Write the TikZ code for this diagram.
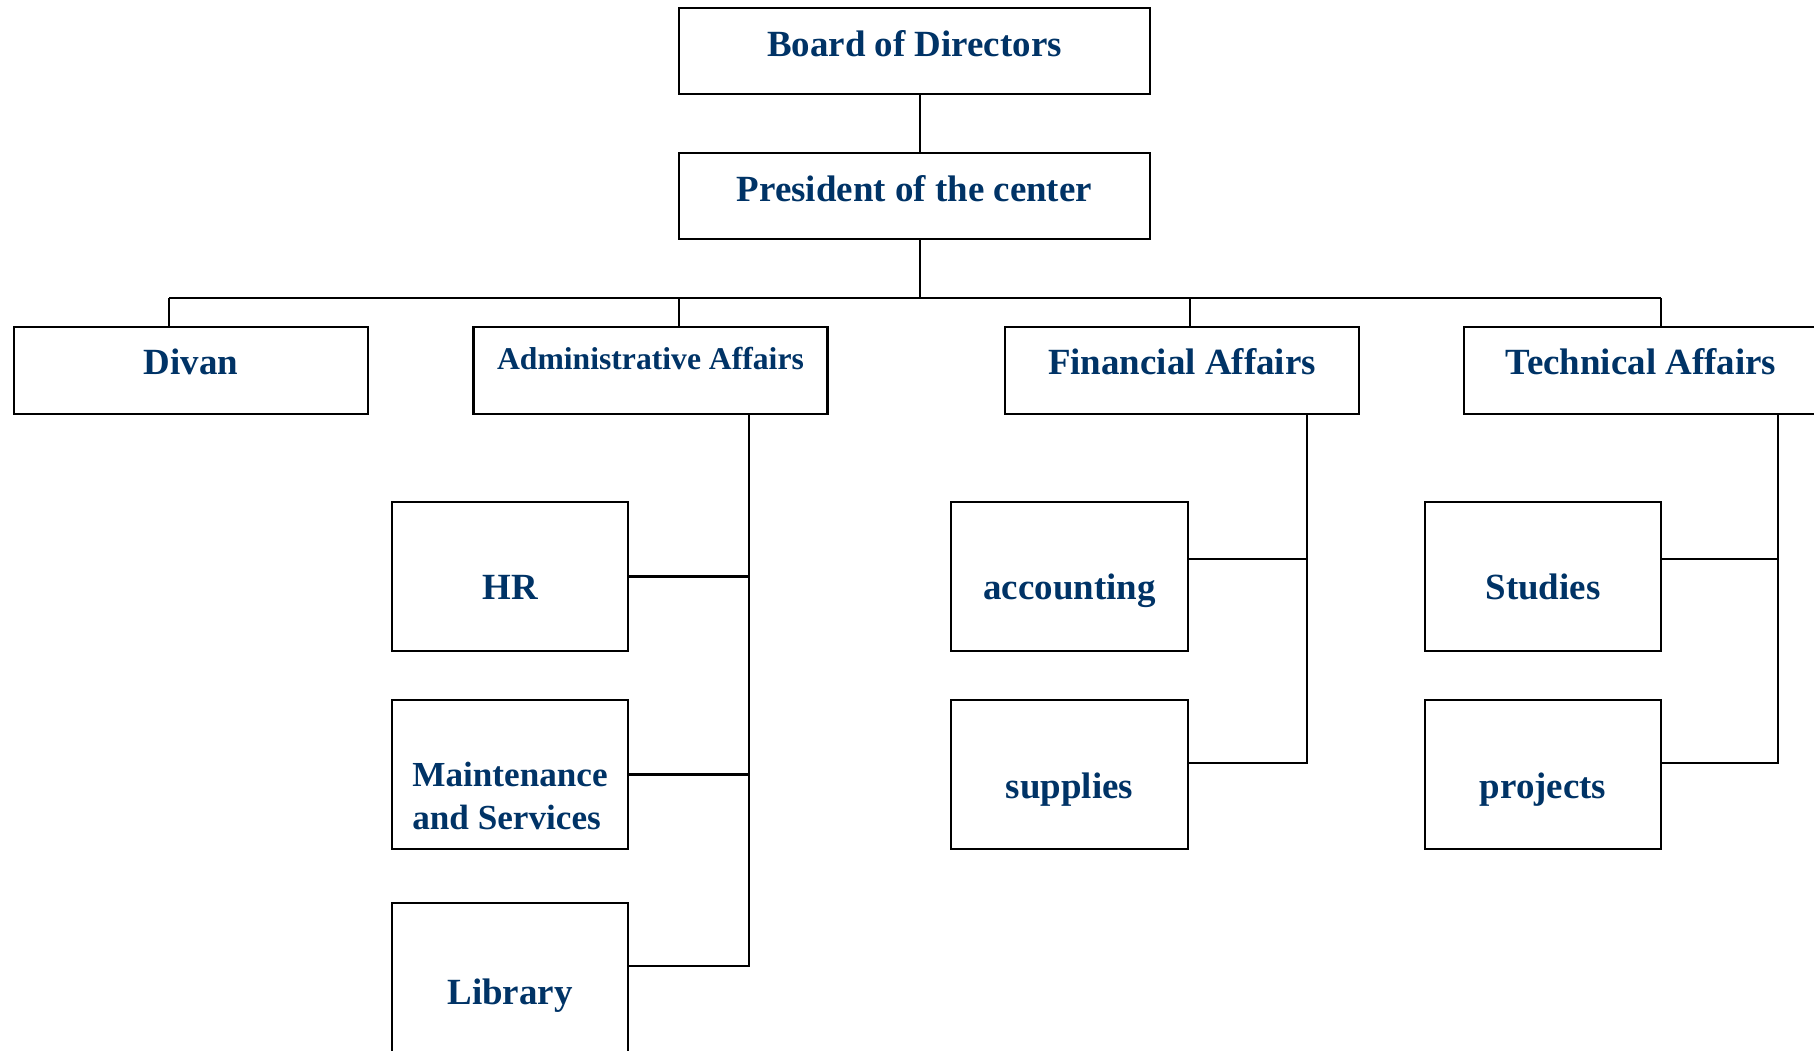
\documentclass[tikz,border=0pt]{standalone}
\usepackage{fontspec}
\setmainfont{Liberation Serif}
\definecolor{navy}{RGB}{0,51,102}
\tikzset{
  unit/.style={draw, line width=.7pt, minimum width=3.54cm, minimum height=.87cm, inner sep=0pt},
  subunit/.style={unit, minimum width=2.36cm, minimum height=1.49cm},
  lbl/.style={text=navy, font=\fontsize{10.5}{12}\selectfont\bfseries, anchor=base, inner sep=0pt},
  link/.style={line width=.65pt}
}
\begin{document}
\begin{tikzpicture}[x=0.01cm, y=-0.01cm]
      \useasboundingbox (0,0) rectangle (1814,1050);
      \clip (0,0) rectangle (1814,1050);

      % top of the chart
      \node[unit, minimum width=4.71cm, minimum height=.86cm] (board) at (914.5, 51){};
      \node[unit, minimum width=4.71cm, minimum height=.86cm] (pres) at (914.5, 196){};
      \node[lbl] (board-t) at ([shift={(0,50)}]board.north){Board of Directors};
      \node[lbl] (pres-t) at ([shift={(0,50)}]pres.north){President of the center};

      % departments
      \node[unit] (divan) at (191, 370.5){};
      \node[unit] (admin) at (650.5, 370.5){};
      \node[unit] (fin) at (1182, 370.5){};
      \node[unit] (tech) at (1641, 370.5){};
      \node[lbl] (divan-t) at ([shift={(0,49)}]divan.north){Divan};
      \node[lbl, font=\fontsize{9}{11}\selectfont\bfseries] (admin-t) at ([shift={(0,44)}]admin.north){Administrative Affairs};
      \node[lbl] (fin-t) at ([shift={(0,49)}]fin.north){Financial Affairs};
      \node[lbl] (tech-t) at ([shift={(0,49)}]tech.north){Technical Affairs};

      % sections
      \node[subunit] (hr) at (510, 576.5){};
      \node[subunit] (maint) at (510, 774.5){};
      \node[subunit] (lib) at (510, 977.5){};
      \node[subunit, minimum width=2.37cm] (acc) at (1069.5, 576.5){};
      \node[subunit, minimum width=2.37cm] (sup) at (1069.5, 774.5){};
      \node[subunit] (stud) at (1543, 576.5){};
      \node[subunit] (proj) at (1543, 774.5){};
      \node[lbl] (hr-t) at ([shift={(0,99)}]hr.north){HR};
      \node[lbl, anchor=center, align=left, font=\fontsize{10}{12}\selectfont\bfseries] (maint-t) at (510, 796){Maintenance\\and Services};
      \node[lbl] (lib-t) at ([shift={(0,103)}]lib.north){Library};
      \node[lbl] (acc-t) at ([shift={(0,99)}]acc.north){accounting};
      \node[lbl] (sup-t) at ([shift={(0,100)}]sup.north){supplies};
      \node[lbl] (stud-t) at ([shift={(0,99)}]stud.north){Studies};
      \node[lbl] (proj-t) at ([shift={(0,100)}]proj.north){projects};

      \coordinate (trunk) at (920, 298);
      \coordinate (d-divan) at (169, 298);
      \coordinate (d-admin) at (679, 298);
      \coordinate (d-fin) at (1190, 298);
      \coordinate (d-tech) at (1661, 298);
      \coordinate (v-admin) at (749, 966);
      \coordinate (j-acc) at (1307, 559);
      \coordinate (v-fin) at (1307, 763);
      \coordinate (j-stud) at (1778, 559);
      \coordinate (v-tech) at (1778, 763);

      \draw[link] (board.south -| trunk) to (pres.north -| trunk);
      \draw[link] (pres.south -| trunk) to (trunk);
      \draw[link] (d-divan) to (d-tech);
      \foreach \n in {divan, admin, fin, tech}
        \draw[link] (d-\n) to (\n.north -| d-\n);

      \draw[link] (admin.south -| v-admin) -- (v-admin) -- (lib.east |- v-admin);
        \draw[link] (hr.east) to (hr.east -| v-admin);
        \draw[link] (maint.east) to (maint.east -| v-admin);

      \draw[link] (fin.south -| v-fin) -- (v-fin) -- (sup.east |- v-fin);
        \draw[link] (acc.east |- j-acc) to (j-acc);

      \draw[link] (tech.south -| v-tech) -- (v-tech) -- (proj.east |- v-tech);
        \draw[link] (stud.east |- j-stud) to (j-stud);

      \end{tikzpicture}
\end{document}
